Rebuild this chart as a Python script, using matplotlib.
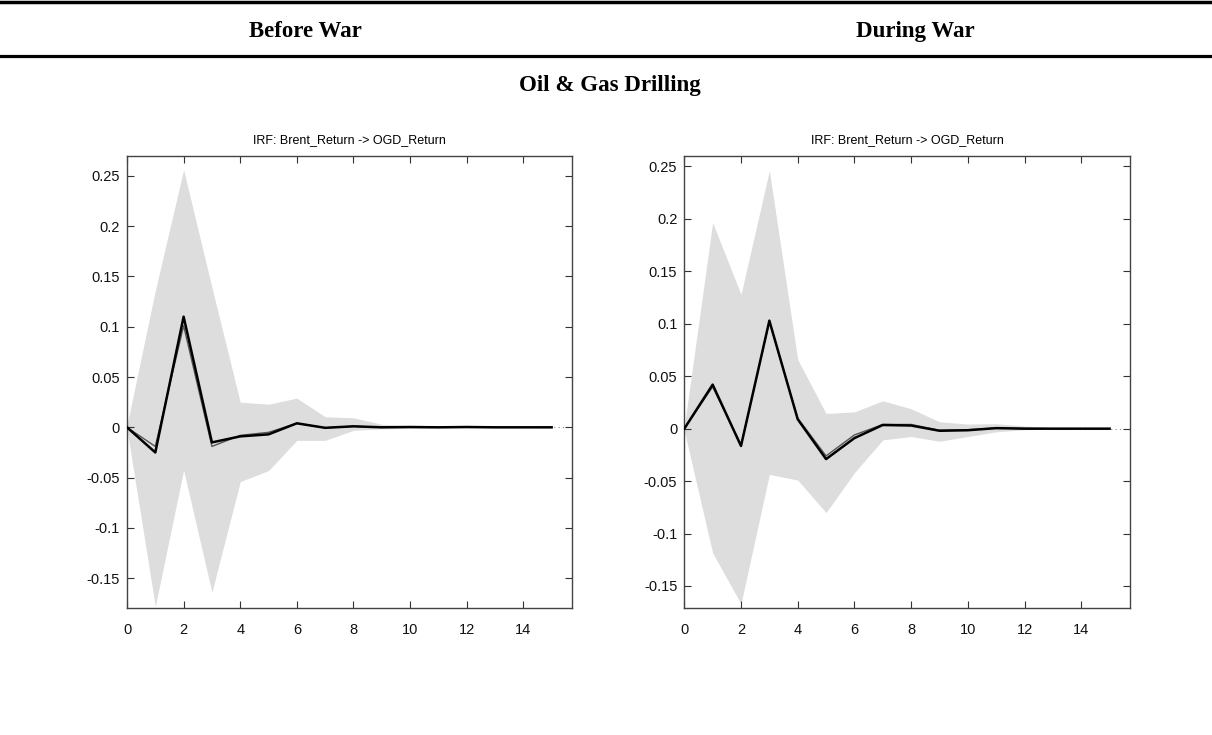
import matplotlib
matplotlib.use("Agg")
import matplotlib.pyplot as plt
import numpy as np

plt.rcParams['axes.unicode_minus'] = False
plt.rcParams['font.family'] = ['Liberation Sans', 'DejaVu Sans']

# horizon
steps = np.arange(16)

# Before War: response of OGD_Return to Brent_Return
before_irf = [0, -0.025, 0.110, -0.015, -0.009, -0.007, 0.004, -0.0005, 0.001, 0.0, 0.0003, 0.0, 0.0003, 0.0, 0.0, 0.0]
before_alt = [0, -0.019, 0.101, -0.019, -0.008, -0.005, 0.004, -0.0005, 0.001, 0.0, 0.0, 0.0, 0.0, 0.0, 0.0, 0.0]
before_hi = [0.002, 0.136, 0.256, 0.139, 0.025, 0.023, 0.029, 0.0105, 0.0095, 0.003, 0.0015, 0.001, 0.0008, 0.0004, 0.0002, 0.0]
before_lo = [-0.002, -0.178, -0.0427, -0.164, -0.054, -0.043, -0.013, -0.013, -0.003, -0.0015, -0.001, -0.0005, -0.0003, -0.0002, -0.0001, 0.0]

# During War
during_irf = [0, 0.042, -0.0165, 0.103, 0.009, -0.029, -0.009, 0.0035, 0.003, -0.002, -0.0015, 0.0005, 0.0, 0.0, 0.0, 0.0]
during_alt = [0, 0.040, -0.0155, 0.102, 0.010, -0.026, -0.006, 0.004, 0.004, -0.0015, -0.001, 0.0006, 0.0002, 0.0, 0.0, 0.0]
during_hi = [0.002, 0.1965, 0.128, 0.246, 0.066, 0.0145, 0.016, 0.0266, 0.019, 0.0066, 0.0044, 0.0047, 0.0025, 0.001, 0.0003, 0.0]
during_lo = [-0.002, -0.1185, -0.167, -0.0436, -0.049, -0.080, -0.042, -0.0107, -0.0075, -0.012, -0.0075, -0.003, -0.001, -0.0004, -0.0002, 0.0]

panel_title = "IRF: Brent_Return -> OGD_Return"
col_titles = ["Before War", "During War"]
row_title = "Oil & Gas Drilling"

W, H = 1212, 735
fig = plt.figure(figsize=(W / 100, H / 100), dpi=100)

# header rules and titles (table look)
fig.add_artist(plt.Line2D([0, 1], [1 - 1.5 / H, 1 - 1.5 / H], color='black', lw=2.5, transform=fig.transFigure))
fig.add_artist(plt.Line2D([0, 1], [1 - 56 / H, 1 - 56 / H], color='black', lw=2.3, transform=fig.transFigure))
serif = ['Liberation Serif', 'DejaVu Serif']
fig.text(305 / W, 1 - 37 / H, col_titles[0], ha='center', va='baseline', fontsize=16.5, fontweight='bold', family=serif)
fig.text(915 / W, 1 - 37 / H, col_titles[1], ha='center', va='baseline', fontsize=16.5, fontweight='bold', family=serif)
fig.text(610 / W, 1 - 91 / H, row_title, ha='center', va='baseline', fontsize=16.5, fontweight='bold', family=serif)

panels = [
    ([127 / W, 1 - 608 / H, 445 / W, 452 / H], before_irf, before_alt, before_hi, before_lo, (-0.1796, 0.2697)),
    ([684.3 / W, 1 - 608 / H, 445.7 / W, 452 / H], during_irf, during_alt, during_hi, during_lo, (-0.171, 0.260)),
]

for rect, irf, alt, hi, lo, ylim in panels:
    ax = fig.add_axes(rect)
    ax.axhline(0, color='#888888', lw=0.8, ls=(0, (1, 3)), zorder=0)
    ax.fill_between(steps, lo, hi, color='#dddddd', lw=0, zorder=1)
    ax.plot(steps, alt, color='#555555', lw=1.0, zorder=2)
    ax.plot(steps, irf, color='black', lw=1.8, zorder=3)
    ax.set_xlim(0, 15.72)
    ax.set_ylim(*ylim)
    ax.set_xticks(np.arange(0, 15, 2))
    ax.set_yticks([-0.15, -0.1, -0.05, 0, 0.05, 0.1, 0.15, 0.2, 0.25])
    ax.set_yticklabels(['-0.15', '-0.1', '-0.05', '0', '0.05', '0.1', '0.15', '0.2', '0.25'])
    ax.tick_params(direction='in', length=5, width=0.8, top=True, right=True,
                   labelsize=10.5, colors='#333333', labelcolor='#111111')
    ax.tick_params(axis='y', pad=5)
    ax.tick_params(axis='x', pad=11)
    for s in ax.spines.values():
        s.set_color('#444444')
        s.set_linewidth(1.0)
    ax.set_title(panel_title, fontsize=9, pad=9)

fig.savefig("out.png", dpi=100)
